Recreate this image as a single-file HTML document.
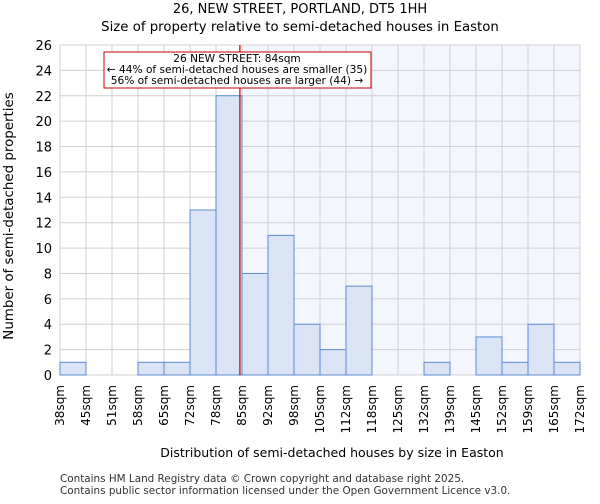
<!DOCTYPE html>
<html><head><meta charset="utf-8"><style>
body{margin:0;background:#fff;font-family:"DejaVu Sans","Liberation Sans",sans-serif;}
</style></head><body>
<svg id="chart" width="600" height="500" xmlns="http://www.w3.org/2000/svg" font-family="DejaVu Sans, Liberation Sans, sans-serif">
<text x="300" y="13" text-anchor="middle" font-size="13">26, NEW STREET, PORTLAND, DT5 1HH</text>
<text x="300" y="31" text-anchor="middle" font-size="13.3">Size of property relative to semi-detached houses in Easton</text>
<g id="plot"></g>
<text x="332" y="457" text-anchor="middle" font-size="12.5">Distribution of semi-detached houses by size in Easton</text>
<text transform="translate(13,216) rotate(-90)" text-anchor="middle" font-size="13.4">Number of semi-detached properties</text>
<text x="60" y="482" font-size="10.4" fill="#333">Contains HM Land Registry data © Crown copyright and database right 2025.</text>
<text x="60" y="494" font-size="10.4" fill="#333">Contains public sector information licensed under the Open Government Licence v3.0.</text>
</svg>
<script>
const categories=["38sqm","45sqm","51sqm","58sqm","65sqm","72sqm","78sqm","85sqm","92sqm","98sqm","105sqm","112sqm","118sqm","125sqm","132sqm","139sqm","145sqm","152sqm","159sqm","165sqm","172sqm"];
const counts=[1,0,0,1,1,13,22,8,11,4,2,7,0,0,1,0,3,1,4,1];
const yTicks=[0,2,4,6,8,10,12,14,16,18,20,22,24,26];
const subjectBin=6.92;
const annotationLines=["26 NEW STREET: 84sqm","← 44% of semi-detached houses are smaller (35)","56% of semi-detached houses are larger (44) →"];
const NS="http://www.w3.org/2000/svg";
const L=60,R=580,T=45,B=375,yMax=26;
const nb=counts.length,bw=(R-L)/nb;
const xs=i=>L+i*bw;
const ys=v=>B-(v/yMax)*(B-T);
const g=document.getElementById('plot');
function mk(t,a){const e=document.createElementNS(NS,t);for(const k in a)e.setAttribute(k,a[k]);g.appendChild(e);return e;}
const shade=mk('rect',{x:xs(Math.ceil(subjectBin)),y:T,width:R-xs(Math.ceil(subjectBin)),height:B-T,fill:'#f3f6fd'});


for(let i=0;i<=nb;i++){const l=mk('line',{x1:xs(i),x2:xs(i),y1:T,y2:B,stroke:'#d0d0d0','stroke-width':1});

}
yTicks.forEach(v=>{const l=mk('line',{x1:L,x2:R,y1:ys(v),y2:ys(v),stroke:'#d0d0d0','stroke-width':1});


const t=mk('text',{x:L-8,y:ys(v)+5,'text-anchor':'end','font-size':13});t.textContent=v;

});
counts.forEach((c,i)=>{if(c<=0)return;const r=mk('rect',{x:xs(i),y:ys(c),width:bw,height:B-ys(c),fill:'#dae4f4',stroke:'#5b8ad6','stroke-width':1});

});
categories.forEach((c,i)=>{const x=xs(i),y=B+10;const t=mk('text',{x:x+4,y:y,'text-anchor':'end','font-size':12,transform:`rotate(-90 ${x+4} ${y})`});t.textContent=c;

});
const sx=xs(subjectBin);
const rl=mk('line',{x1:sx,x2:sx,y1:T,y2:B,stroke:'#c00000','stroke-width':1.2});


const box=mk('rect',{x:104,y:52,width:267,height:36,fill:'#fff',stroke:'#c00000','stroke-width':1});


annotationLines.forEach((s,i)=>{const t=mk('text',{x:237,y:62+i*11,'text-anchor':'middle','font-size':10.6});t.textContent=s;

});
</script>
</body></html>
